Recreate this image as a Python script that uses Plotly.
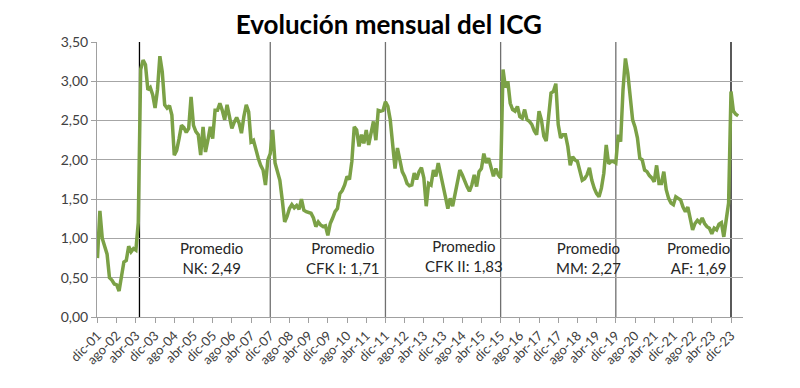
import plotly.graph_objects as go

MESES = ["ene", "feb", "mar", "abr", "may", "jun", "jul", "ago", "sep", "oct", "nov", "dic"]

icg = [
    0.75, 1.35, 1.00, 0.88, 0.80, 0.50, 0.47, 0.42, 0.41, 0.33, 0.55, 0.70,
    0.72, 0.90, 0.83, 0.87, 0.85, 1.20, 3.15, 3.27, 3.21, 2.89, 2.92, 2.83,
    2.66, 2.89, 3.32, 3.12, 2.70, 2.66, 2.69, 2.57, 2.06, 2.12, 2.27, 2.44,
    2.41, 2.35, 2.40, 2.80, 2.44, 2.36, 2.32, 2.06, 2.42, 2.10, 2.25, 2.42,
    2.27, 2.63, 2.63, 2.72, 2.63, 2.51, 2.70, 2.55, 2.40, 2.48, 2.54, 2.47,
    2.34, 2.55, 2.70, 2.61, 2.23, 2.25, 2.12, 2.02, 1.93, 1.87, 1.68, 2.00,
    2.08, 2.38, 1.96, 1.85, 1.74, 1.49, 1.21, 1.28, 1.38, 1.43, 1.39, 1.42,
    1.37, 1.50, 1.36, 1.34, 1.33, 1.32, 1.26, 1.15, 1.21, 1.17, 1.15, 1.16,
    1.04, 1.19, 1.26, 1.34, 1.38, 1.57, 1.61, 1.68, 1.79, 1.75, 1.98, 2.42,
    2.38, 2.17, 2.32, 2.21, 2.38, 2.19, 2.34, 2.49, 2.25, 2.63, 2.62, 2.63,
    2.74, 2.68, 2.51, 2.20, 1.89, 2.15, 2.00, 1.85, 1.79, 1.70, 1.67, 1.68,
    1.83, 1.75, 1.85, 1.90, 1.77, 1.41, 1.70, 1.68, 1.87, 1.79, 1.96, 1.83,
    1.66, 1.53, 1.38, 1.51, 1.41, 1.55, 1.70, 1.87, 1.81, 1.72, 1.66, 1.60,
    1.68, 1.81, 1.66, 1.85, 1.89, 2.08, 1.96, 2.02, 1.89, 1.79, 1.89, 1.81,
    1.77, 3.15, 2.92, 3.00, 2.72, 2.64, 2.62, 2.68, 2.55, 2.53, 2.64, 2.51,
    2.49, 2.45, 2.37, 2.32, 2.62, 2.51, 2.30, 2.24, 2.55, 2.85, 2.87, 2.97,
    2.45, 2.28, 2.32, 2.32, 2.17, 1.93, 2.04, 2.00, 1.98, 1.87, 1.74, 1.76,
    1.81, 1.90, 1.74, 1.64, 1.57, 1.53, 1.64, 1.83, 2.19, 1.95, 1.98, 1.98,
    1.96, 2.32, 2.23, 2.89, 3.29, 3.10, 2.85, 2.51, 2.42, 2.28, 2.02, 2.00,
    1.87, 1.85, 1.80, 1.77, 1.72, 1.93, 1.70, 1.70, 1.85, 1.62, 1.51, 1.45,
    1.43, 1.53, 1.51, 1.49, 1.40, 1.34, 1.40, 1.26, 1.11, 1.19, 1.23, 1.20,
    1.26, 1.19, 1.15, 1.13, 1.06, 1.13, 1.11, 1.18, 1.20, 1.02, 1.22, 1.45,
    2.87, 2.62, 2.58, 2.56,
]

# monthly categories starting dic-01
meses = []
for i in range(len(icg)):
    k = 11 + i
    meses.append(f"{MESES[k % 12]}-{(1 + k // 12):02d}")

tick_labels = meses[0:265:8]

# boundaries of presidential periods (category positions)
cortes = [17.5, 72, 120, 168, 216, 264]
cortes_color = ["#000000", "#707070", "#707070", "#707070", "#707070", "#000000"]

promedio_textos = ["Promedio<br>NK: 2,49", "Promedio<br>CFK I: 1,71", "Promedio<br>CFK II: 1,83",
                   "Promedio<br>MM: 2,27", "Promedio<br>AF: 1,69"]
promedio_x = [47.5, 102.5, 152.8, 204.5, 250.5]
promedio_y = [0.75, 0.75, 0.78, 0.75, 0.75]

font_family = "Lato, Open Sans, sans-serif"

fig = go.Figure()
fig.add_trace(go.Scatter(
    x=list(range(len(icg))), y=icg, mode="lines",
    line=dict(color="#7BA146", width=3.5),
    hovertext=meses, showlegend=False,
))

for xc, col in zip(cortes, cortes_color):
    fig.add_shape(type="line", xref="x", yref="y", x0=xc, x1=xc, y0=0, y1=3.5,
                  line=dict(color=col, width=1.3), layer="below")

for t, xa, ya in zip(promedio_textos, promedio_x, promedio_y):
    fig.add_annotation(x=xa, y=ya, xref="x", yref="y", text=t, showarrow=False,
                       font=dict(size=15, color="#262626", family=font_family),
                       align="center", yanchor="middle")

fig.update_layout(
    width=800, height=388,
    margin=dict(l=89, r=65, t=34, b=79, autoexpand=False),
    paper_bgcolor="white", plot_bgcolor="white",
    separators=",.",
    title=dict(text="<b>Evolución mensual del ICG</b>", x=0.476, xanchor="center",
               y=0.956, yanchor="middle",
               font=dict(size=26, color="#000000", family=font_family)),
    font=dict(family=font_family, color="#404040"),
)

fig.update_xaxes(
    automargin=False,
    range=[-0.2, 269], tickmode="array",
    tickvals=list(range(0, 265, 8)), ticktext=tick_labels,
    tickangle=-45, tickfont=dict(size=13, color="#404040"),
    showgrid=False, showline=True, linecolor="#a0a0a0", linewidth=1,
    ticks="outside", ticklen=5, tickcolor="#a0a0a0", zeroline=False,
)
fig.update_yaxes(
    automargin=False,
    range=[0, 3.5], tickmode="array", tickvals=[0, 0.5, 1, 1.5, 2, 2.5, 3, 3.5],
    tickformat=".2f", tickfont=dict(size=14, color="#404040"),
    showgrid=True, gridcolor="#a6a6a6", gridwidth=1,
    showline=True, linecolor="#a0a0a0", linewidth=1,
    ticks="outside", ticklen=5, tickcolor="#a0a0a0", zeroline=False,
)

fig.write_html("out.html")
